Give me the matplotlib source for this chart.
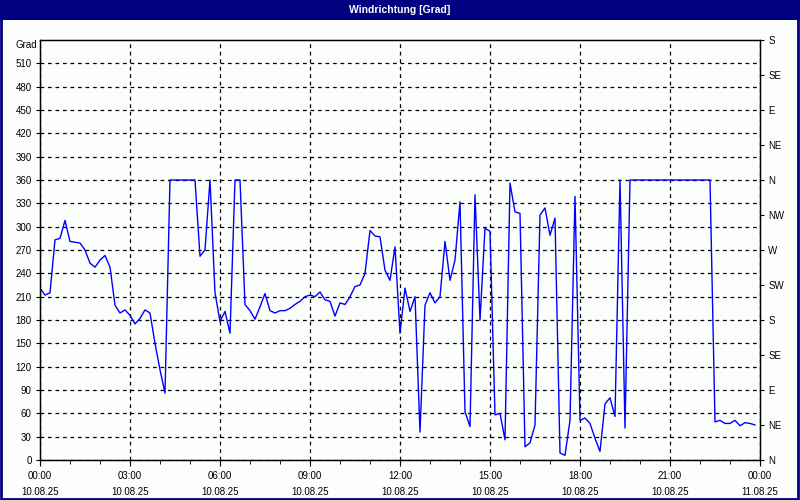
import numpy as np
import matplotlib.pyplot as plt
from matplotlib.ticker import MultipleLocator

plt.rcParams['font.family'] = ['Liberation Sans', 'DejaVu Sans']

# wind direction in degrees, 10-minute steps from 10.08.25 00:00
wind_dir = [221, 212, 215, 283, 285, 308, 281, 280, 279, 270,
            253, 248, 257, 263, 248, 199, 189, 193, 186, 175,
            182, 193, 189, 150, 116, 86, 360, 360, 360, 360,
            360, 360, 262, 270, 360, 215, 178, 191, 163, 360,
            360, 200, 192, 181, 197, 214, 192, 189, 192, 192,
            195, 200, 204, 210, 212, 210, 216, 206, 204, 185,
            202, 200, 210, 223, 225, 240, 295, 288, 287, 244,
            231, 274, 163, 221, 191, 210, 36, 199, 215, 202,
            210, 281, 231, 257, 332, 62, 43, 341, 180, 298,
            294, 58, 60, 26, 356, 319, 317, 17, 22, 45,
            315, 324, 289, 311, 9, 6, 51, 339, 51, 54,
            47, 28, 11, 72, 80, 56, 360, 41, 360, 360,
            360, 360, 360, 360, 360, 360, 360, 360, 360, 360,
            360, 360, 360, 360, 360, 49, 51, 47, 47, 51,
            44, 48, 47, 45]
hours = np.arange(len(wind_dir)) / 6.0

x_ticks = [0, 3, 6, 9, 12, 15, 18, 21, 24]
x_labels = ['00:00\n10.08.25', '03:00\n10.08.25', '06:00\n10.08.25',
            '09:00\n10.08.25', '12:00\n10.08.25', '15:00\n10.08.25',
            '18:00\n10.08.25', '21:00\n10.08.25', '00:00\n11.08.25']
left_ticks = list(range(0, 540, 30))
compass_ticks = list(range(0, 541, 45))
compass_labels = ['N', 'NE', 'E', 'SE', 'S', 'SW', 'W', 'NW',
                  'N', 'NE', 'E', 'SE', 'S']

navy = '#000080'
bg = '#FCFEFC'

fig = plt.figure(figsize=(8, 5), dpi=100, facecolor=bg)

# title bar and window frame
fig.patches.append(plt.Rectangle((0, 1 - 20 / 500), 1, 20 / 500, transform=fig.transFigure,
                                 facecolor=navy, edgecolor='none', zorder=0))
fig.patches.append(plt.Rectangle((0.001, 0.002), 0.996, 0.996, transform=fig.transFigure,
                                 facecolor='none', edgecolor=navy, linewidth=2, zorder=1))
fig.text(0.5, 1 - 10 / 500, 'Windrichtung [Grad]', color='white', fontsize=7.5,
         fontweight='bold', ha='center', va='center')

ax = fig.add_axes([40 / 800, 40 / 500, 720 / 800, 420 / 500])
ax.set_facecolor(bg)
ax.plot(hours, wind_dir, color='#0000FF', linewidth=1)

ax.set_xlim(0, 24)
ax.set_ylim(0, 540)
ax.set_xticks(x_ticks)
ax.set_xticklabels(x_labels, fontsize=7, linespacing=1.75)
ax.xaxis.set_minor_locator(MultipleLocator(1))
ax.set_yticks(left_ticks)
ax.set_yticklabels([str(v) for v in left_ticks], fontsize=7)
ax.tick_params(axis='x', which='major', length=4, pad=4, color='black')
ax.tick_params(axis='x', which='minor', length=3, color='black')
ax.tick_params(axis='y', length=3, pad=3)
ax.grid(True, which='major', color='black', linestyle=(0, (3, 3)), linewidth=0.9)
for s in ax.spines.values():
    s.set_color('black')
    s.set_linewidth(1)

fig.text(37 / 800, 1 - 45 / 500, 'Grad', fontsize=7, ha='right', va='center')

ax2 = ax.twinx()
ax2.set_ylim(0, 540)
ax2.set_yticks(compass_ticks)
ax2.set_yticklabels(compass_labels, fontsize=7)
ax2.tick_params(axis='y', length=3, pad=3)

fig.savefig('out.png', dpi=100, facecolor=bg)
